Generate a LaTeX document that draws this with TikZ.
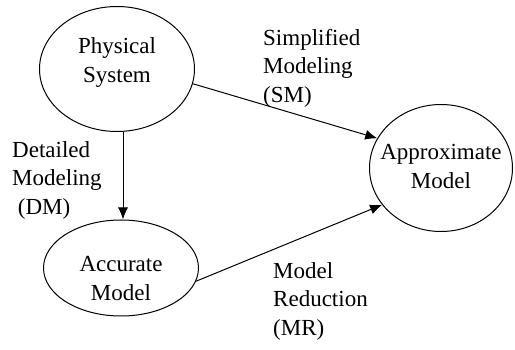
\documentclass[tikz,border=0pt]{standalone}
\usepackage{fontspec}
\setmainfont{Liberation Serif}
\usetikzlibrary{shapes.geometric,arrows.meta}
\begin{document}
\begin{tikzpicture}[x=1pt,y=-1pt,
  ell/.style={draw,ellipse,line width=1pt,inner sep=0pt},
  txt/.style={align=center,font=\fontsize{23}{29}\selectfont,inner sep=0pt},
  lbl/.style={align=left,font=\fontsize{23}{28.5}\selectfont,inner sep=0pt,anchor=west},
  arr/.style={line width=1pt,-{Latex[length=12pt,width=10pt]}}]
\useasboundingbox (0,0) rectangle (515,350);
\node[ell,minimum width=155pt,minimum height=125pt] (ps) at (117,69) {};
\node[ell,minimum width=155pt,minimum height=96pt] (am) at (121,268) {};
\node[ell,minimum width=143pt,minimum height=127pt] (ap) at (441,168) {};
\node[txt] (pst) at (117,63) {Physical\\System};
\node[txt] (amt) at (121,279) {Accurate\\Model};
\node[txt] (apt) at (441,166) {Approximate\\Model};
\node[lbl] (dm) at (12,180) {Detailed\\Modeling\\\ (DM)};
\node[lbl] (sm) at (263,68) {Simplified\\Modeling\\(SM)};
\node[lbl] (mr) at (273,301) {Model\\Reduction\\(MR)};
\draw[arr] ([xshift=6pt]ps.south) -- ([xshift=2pt]am.north);
\draw[arr] (ps.-11) -- (ap.155.5);
\draw[arr] (am.-10) -- (ap.-148);
\end{tikzpicture}
\end{document}
